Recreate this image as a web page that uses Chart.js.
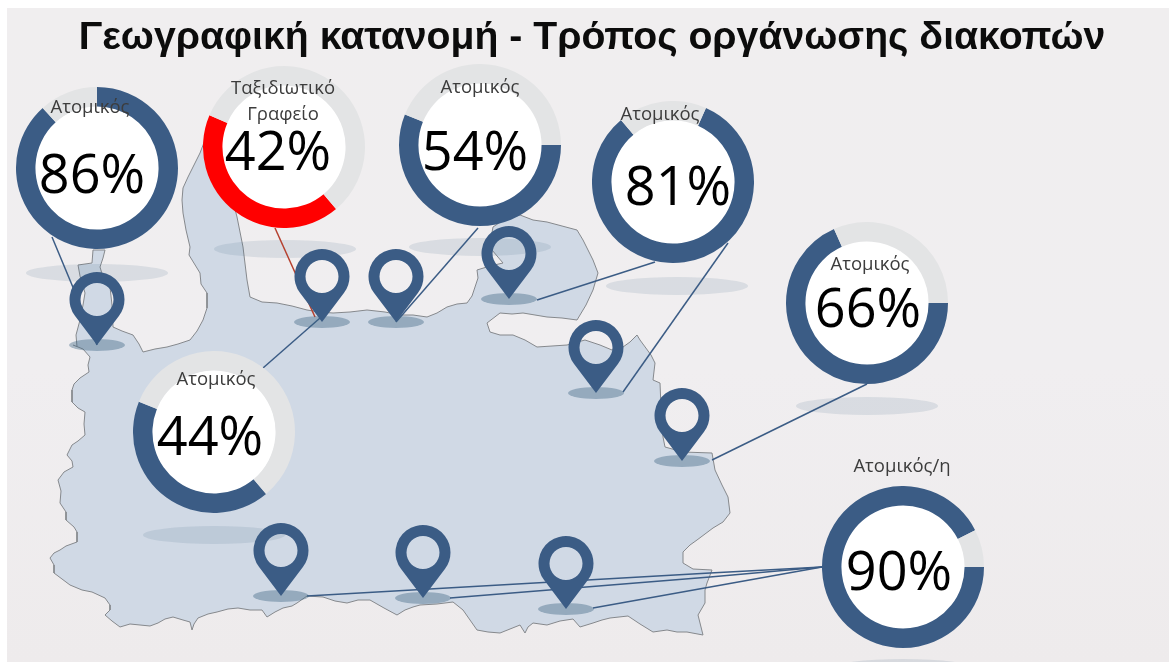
<!DOCTYPE html>
<html lang="el">
<head>
<meta charset="utf-8">
<title>Γεωγραφική κατανομή</title>
<script src="https://cdn.jsdelivr.net/npm/chart.js@4"></script>
<style>
html,body{margin:0;padding:0;background:#fff;width:1169px;height:662px;overflow:hidden}
#stage{position:absolute;left:7px;top:8px;width:1162px;height:654px;background:linear-gradient(#f0eeef,#f0eef0 55%,#eeebec)}
canvas{position:absolute}
.t{position:absolute;transform:translate(-50%,-50%);white-space:nowrap;font-family:"Open Sans",sans-serif}
.lab{font-size:18.5px;color:#3c3c3c}
.pct{font-size:54px;color:#000}
#title{font:bold 39.2px "Liberation Sans",Arial,sans-serif;color:#0c0c0c}
</style>
</head>
<body>
<div id="stage"></div>
<canvas id="map" width="1169" height="662" style="left:0;top:0"></canvas>
<script>
// ---------- data ----------
const chartTitle = "Γεωγραφική κατανομή - Τρόπος οργάνωσης διακοπών";
const regionLabels = [["Ατομικός"], ["Ταξιδιωτικό", "Γραφείο"], ["Ατομικός"], ["Ατομικός"], ["Ατομικός"], ["Ατομικός"], ["Ατομικός/η"]];
const shares = [86, 42, 54, 81, 66, 44, 90];
const remainders = [11.4, 56.8, 42.2, 17.5, 30.6, 60.2, 7.3];
const startAngles = [0, 140, 90, 24, 90, 140, 90];
const ringColors = ["#3b5c85", "#ff0000", "#3b5c85", "#3b5c85", "#3b5c85", "#3b5c85", "#3b5c85"];
const ringCentres = [[97,168],[284,147],[480,145],[673,182],[867,303],[214,432],[903,567]];
const labelAnchors = [[90,105],[283,86],[480,85],[660,112],[870,262],[216,377],[902,464]];
const pctAnchors = [[92,172],[278,149],[475,149],[678,184],[868,306],[210,434],[899,569]];
const ringShadows = [[97,273],[285,249],[480,247],[677,286],[867,406],[214,535],[903,668]];
const pinTips = [[97,345],[322,322],[396,322],[509,299],[596,393],[682,461],[281,596],[423,598],[566,609]];
const leaderLines = [
  [[52,237],[97,345]],
  [[275,228],[315,317]],
  [[263,368],[320,318]],
  [[478,228],[396,322]],
  [[655,262],[537,300]],
  [[728,243],[623,392]],
  [[867,384],[712,460]],
  [[822,567],[710,573],[307,596]],
  [[822,567],[710,577],[450,598]],
  [[822,567],[593,608]]
];
const leaderColors = ["#3b5c85","#b5402f","#3b5c85","#3b5c85","#3b5c85","#3b5c85","#3b5c85","#3b5c85","#3b5c85","#3b5c85"];
const mapOutline = [
 [73,345],[83,349],[90,357],[88,365],[89,372],[80,378],[74,384],[72,390],[72,402],[78,408],[85,412],[84,424],[85,435],[78,441],[72,445],[67,455],[72,461],[73,467],[64,472],[58,480],[61,491],[60,503],[66,512],[66,520],[74,527],[77,532],[77,542],[66,546],[60,550],[54,553],[50,558],[54,565],[54,573],[62,579],[70,585],[82,590],[92,592],[105,598],[110,605],[110,610],[105,615],[112,621],[120,627],[130,624],[140,625],[150,626],[158,623],[165,619],[173,617],[183,620],[190,622],[192,630],[194,624],[198,618],[208,614],[217,612],[228,609],[238,608],[250,610],[262,610],[267,617],[275,612],[283,608],[292,606],[297,603],[307,596],[323,597],[335,601],[347,603],[358,600],[370,600],[384,608],[397,615],[405,610],[413,607],[420,605],[437,604],[453,602],[463,610],[470,620],[477,630],[488,632],[500,633],[510,629],[520,625],[525,633],[528,627],[533,623],[547,625],[560,621],[573,619],[580,627],[593,623],[602,620],[610,618],[628,616],[640,624],[653,632],[667,630],[677,632],[687,632],[703,635],[698,615],[705,603],[705,590],[707,583],[712,570],[693,569],[683,563],[683,552],[690,545],[697,540],[713,528],[723,522],[730,513],[728,497],[722,485],[715,470],[712,453],[683,452],[665,447],[663,437],[661,407],[660,383],[653,380],[655,363],[651,355],[640,340],[637,335],[630,342],[623,347],[612,350],[600,345],[585,340],[567,345],[552,346],[537,347],[525,340],[513,335],[500,335],[490,332],[487,323],[500,313],[512,314],[523,313],[535,315],[547,317],[562,318],[577,320],[586,305],[593,290],[598,273],[593,260],[588,250],[583,240],[577,230],[562,226],[547,222],[533,220],[520,215],[505,219],[493,227],[491,238],[492,250],[503,263],[490,266],[477,270],[478,278],[475,287],[472,296],[467,303],[457,304],[447,307],[437,313],[427,317],[413,315],[400,315],[385,312],[367,310],[350,312],[333,313],[320,312],[307,310],[292,306],[277,303],[262,302],[250,297],[247,280],[243,247],[240,232],[237,217],[225,170],[205,140],[200,153],[194,165],[188,177],[183,188],[182,200],[183,213],[186,230],[190,247],[189,255],[200,273],[201,284],[207,293],[207,308],[203,320],[197,331],[190,340],[178,344],[167,347],[155,349],[143,352],[139,344],[133,335],[122,331],[113,327],[112,305],[110,287],[103,277],[100,267],[103,258],[105,250],[93,250],[92,263],[78,265],[80,276],[85,293],[83,305],[80,320],[76,335],[77,347]
];
// ---------- drawing ----------
const byId = id => document.getElementById(id);
function ellipseSprite(rx, ry, color){
  const c = document.createElement('canvas'); c.width = rx*2; c.height = ry*2;
  const g = c.getContext('2d'); g.fillStyle = color;
  g.beginPath(); g.ellipse(rx, ry, rx, ry, 0, 0, Math.PI*2); g.fill();
  return c;
}
function pinSprite(){
  const r = 27.5, hole = 16.5, d = 45.5, w = 56, h = 2*(d + r + 1);
  const c = document.createElement('canvas'); c.width = w; c.height = h;
  const g = c.getContext('2d'), cx = w/2, tipY = h/2, cy = tipY - d;
  const a = Math.acos(r/d);
  g.fillStyle = "#3b5c85";
  g.beginPath();
  g.arc(cx, cy, r, Math.PI/2 + a, Math.PI/2 - a);
  g.lineTo(cx, tipY); g.closePath();
  g.moveTo(cx + hole, cy); g.arc(cx, cy, hole, 0, Math.PI*2);
  g.fill('evenodd');
  return c;
}
const toXY = p => ({x:p[0], y:p[1]});
const base = {showLine:false, pointRadius:0, pointHitRadius:0};
const datasets = [
  {...base, label:'pins', order:0, data:pinTips.map(toXY), pointStyle:pinSprite(), pointRadius:28},
  {...base, label:'pin shadows', order:1, data:pinTips.map(toXY), pointStyle:ellipseSprite(28,6,'rgba(60,100,130,.4)'), pointRadius:28},
  ...leaderLines.map((l,i)=>({...base, label:'leader '+i, order:2, data:l.map(toXY), showLine:true, borderColor:leaderColors[i], borderWidth:1.5, tension:0})),
  {...base, label:'ring shadows', order:3, data:ringShadows.map(toXY), pointStyle:ellipseSprite(71,9,'rgba(60,100,130,.13)'), pointRadius:71},
  {...base, label:'map', order:4, data:mapOutline.map(toXY), showLine:true, fill:'shape', backgroundColor:'#d0d9e5', borderColor:'#85888c', borderWidth:1, tension:0}
];
new Chart(byId('map'), {
  type:'scatter',
  data:{datasets},
  options:{
    responsive:false, animation:false, events:[],
    layout:{padding:0, autoPadding:false},
    plugins:{legend:{display:false}, tooltip:{enabled:false}},
    scales:{
      x:{type:'linear', min:0, max:1169, display:false},
      y:{type:'linear', min:0, max:662, reverse:true, display:false}
    }
  }
});
const whiteCentre = {
  id:'whiteCentre',
  beforeDatasetsDraw(chart){
    const arc = chart.getDatasetMeta(0).data[0], g = chart.ctx;
    g.save(); g.fillStyle = '#fff'; g.beginPath();
    g.arc(arc.x, arc.y, arc.innerRadius + .5, 0, Math.PI*2); g.fill(); g.restore();
  }
};
const D = 162;
shares.forEach((v,i)=>{
  const c = document.createElement('canvas');
  c.width = D; c.height = D;
  c.style.left = (ringCentres[i][0]-D/2)+'px';
  c.style.top = (ringCentres[i][1]-D/2)+'px';
  document.body.appendChild(c);
  new Chart(c, {
    type:'doughnut',
    data:{labels:[regionLabels[i].join(' '), 'Άλλο'], datasets:[{data:[v, remainders[i]], backgroundColor:[ringColors[i], '#e3e4e5'], borderWidth:0}]},
    options:{responsive:false, animation:false, events:[], cutout:'76%', rotation:startAngles[i],
      layout:{padding:0}, plugins:{legend:{display:false}, tooltip:{enabled:false}}},
    plugins:[whiteCentre]
  });
});
function addText(text, x, y, cls, id){
  const d = document.createElement('div');
  d.className = 't ' + cls; d.textContent = text;
  d.style.left = x+'px'; d.style.top = y+'px';
  if(id) d.id = id;
  document.body.appendChild(d);
}
addText(chartTitle, 592, 36, '', 'title');
regionLabels.forEach((lines,i)=>{
  lines.forEach((s,k)=>addText(s, labelAnchors[i][0], labelAnchors[i][1]+k*26, 'lab'));
  addText(shares[i]+'%', pctAnchors[i][0], pctAnchors[i][1], 'pct');
});
</script>
</body>
</html>
